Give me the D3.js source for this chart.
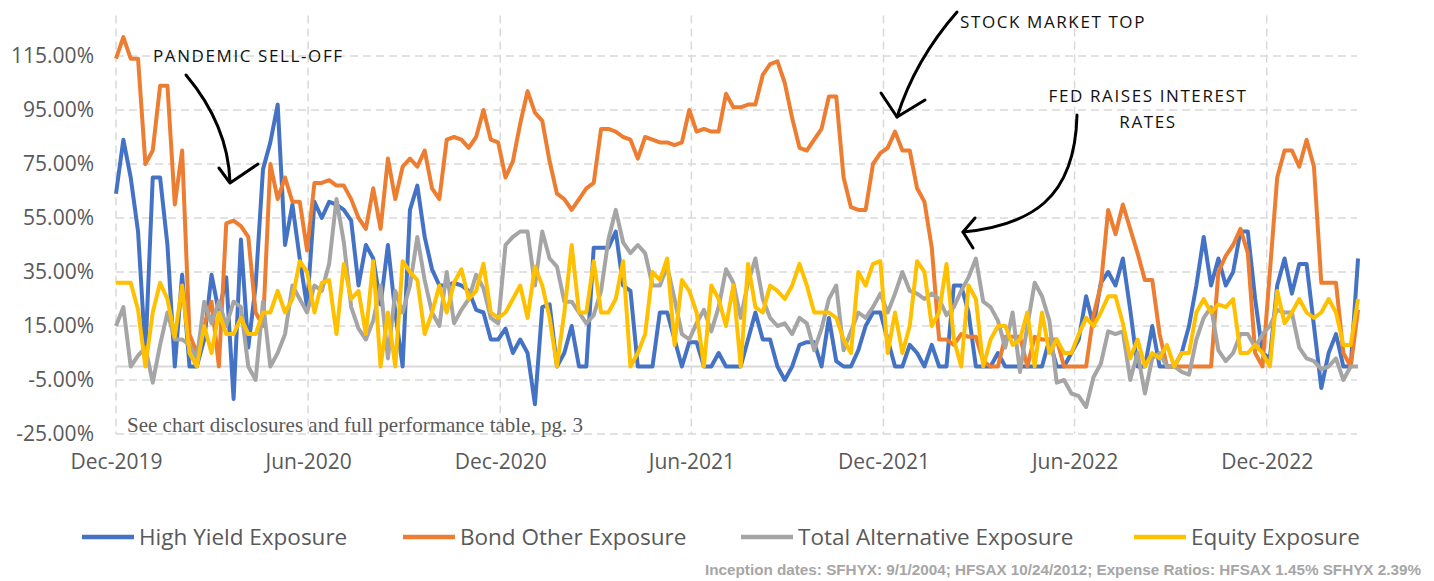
<!DOCTYPE html>
<html>
<head>
<meta charset="utf-8">
<script src="https://cdn.jsdelivr.net/npm/d3@7/dist/d3.min.js"></script>
<style>
  body { margin: 0; background: #fff; }
  svg text { font-family: "Open Sans", "Noto Sans", sans-serif; }
</style>
</head>
<body>
<div id="chart"></div>
<script>
// weekly observations, first one on this date
const startDate = '2019-12-01'

const highYield = [
  64, 84, 70, 50, 5, 70, 70, 45, 0, 34,
  0, 0, 10, 34, 20, 33, -12, 47, 7, 30,
  73, 83, 97, 45, 60, 40, 22, 61, 55, 61,
  60, 58, 54, 30, 45, 40, 23, 45, 20, 0,
  58, 67, 48, 36, 30, 30, 31, 30, 28, 21,
  20, 10, 10, 14, 5, 10, 5, -14, 22, 23,
  0, 5, 15, 0, 0, 44, 44, 44, 50, 30,
  28, 0, 0, 0, 20, 20, 10, 0, 9, 9,
  0, 0, 5, 0, 0, 0, 10, 20, 10, 10,
  0, -5, 0, 8, 9, 9, 0, 18, 2, 0,
  0, 6, 15, 20, 20, 10, 0, 0, 8, 5,
  0, 8, 0, 0, 30, 30, 20, 0, 0, 0,
  5, 0, 0, 0, 0, 0, 0, 10, 0, 0,
  5, 10, 26, 15, 31, 35, 30, 40, 21, 0,
  0, 15, 0, 0, 0, 5, 15, 30, 48, 30,
  40, 30, 35, 50, 50, 25, 5, 3, 30, 40,
  27, 38, 38, 15, -8, 5, 12, 0, 0, 40
]

const bondOther = [
  114, 122, 114, 114, 75, 80, 104, 104, 60, 80,
  12, 5, 15, 24, 0, 53, 54, 52, 48, 20,
  15, 75, 62, 70, 61, 61, 43, 68, 68, 69,
  67, 67, 62, 55, 51, 66, 51, 77, 62, 74,
  77, 74, 80, 66, 62, 84, 85, 84, 81, 85,
  95, 84, 83, 70, 76, 90, 102, 94, 91, 76,
  64, 62, 58, 62, 66, 68, 88, 88, 87, 85,
  84, 77, 85, 84, 83, 83, 82, 83, 95, 87,
  88, 87, 87, 101, 96, 96, 97, 97, 108, 112,
  113, 105, 92, 81, 80, 84, 88, 100, 100, 70,
  59, 58, 58, 75, 79, 81, 87, 80, 80, 66,
  61, 44, 10, 10, 8, 12, 11, 11, 2, 0,
  0, 11, 11, 11, 0, 11, 10, 10, 10, 0,
  0, 0, 0, 19, 30, 58, 49, 60, 51, 42,
  32, 32, 12, 0, 0, 0, 0, 0, 0, 0,
  35, 41, 45, 51, 42, 5, 0, 35, 70, 80,
  80, 74, 84, 74, 31, 31, 31, 5, 0, 21
]

const totalAlt = [
  15, 22, 0, 4, 7, -6, 8, 20, 10, 10,
  8, 3, 24, 16, 24, 15, 24, 22, 0, -5,
  24, 0, 5, 12, 30, 25, 20, 30, 28, 38,
  62, 46, 22, 14, 10, 17, 30, 3, 28, 20,
  30, 48, 32, 20, 15, 35, 16, 21, 25, 34,
  29, 18, 16, 45, 48, 50, 50, 30, 50, 40,
  37, 24, 24, 20, 16, 19, 28, 47, 58, 46,
  42, 45, 42, 30, 30, 37, 25, 12, 10, 16,
  21, 13, 22, 36, 31, 18, 31, 40, 25, 18,
  15, 16, 12, 18, 16, 6, 14, 25, 30, 6,
  13, 20, 18, 22, 27, 20, 27, 35, 28, 27,
  25, 27, 25, 19, 22, 28, 33, 40, 24, 22,
  17, 7, 20, -2, 15, 31, 26, 17, -6, -5,
  -10, -11, -15, -4, 1, 13, 12, 13, -5, 5,
  -10, 3, 5, 0, 0, -2, -3, 10, 18, 22,
  6, 2, 5, 12, 12, 7, 12, 15, 21, 20,
  20, 7, 3, 2, -1, 0, 3, -5, 0, 0
]

const equity = [
  31, 31, 31, 21, 0, 20, 31, 25, 11, 30,
  5, 0, 15, 5, 20, 12, 12, 18, 12, 12,
  20, 20, 28, 20, 25, 39, 35, 20, 31, 32,
  12, 38, 25, 28, 12, 39, 0, 20, 0, 39,
  35, 32, 12, 20, 30, 20, 31, 36, 25, 28,
  38, 20, 18, 20, 25, 30, 18, 37, 30, 18,
  0, 20, 45, 20, 20, 39, 20, 20, 25, 39,
  0, 5, 12, 35, 32, 40, 8, 32, 28, 20,
  0, 30, 25, 15, 30, 0, 38, 22, 20, 30,
  28, 25, 30, 38, 30, 20, 20, 20, 18, 10,
  5, 35, 30, 38, 39, 5, 20, 5, 15, 39,
  35, 15, 20, 38, 10, 0, 30, 25, 0, 10,
  15, 15, 8, 10, 20, 0, 20, 5, 10, 5,
  5, 12, 18, 15, 20, 26, 26, 16, 3, 10,
  0, 5, 3, 8, 0, 5, 5, 20, 25, 20,
  23, 22, 25, 5, 5, 8, 5, 0, 28, 16,
  20, 25, 20, 18, 20, 25, 20, 8, 8, 25
]

const seriesNames = ['High Yield Exposure', 'Bond Other Exposure', 'Total Alternative Exposure', 'Equity Exposure']
const seriesColors = ['#4472C4', '#ED7D31', '#A5A5A5', '#FFC000']
const yTicks = [-25, -5, 15, 35, 55, 75, 95, 115]
const xTicks = ['2019-12-01', '2020-06-01', '2020-12-01', '2021-06-01', '2021-12-01', '2022-06-01', '2022-12-01']
const axisStart = '2019-12-01'
const axisEnd = '2023-02-25'

const notes = [
  { text: 'PANDEMIC SELL-OFF', x: 153, y: 62 },
  { text: 'STOCK MARKET TOP', x: 960, y: 28 },
  { text: 'FED RAISES INTEREST', x: 1148, y: 102, anchor: 'middle' },
  { text: 'RATES', x: 1148, y: 128, anchor: 'middle' }
]

////////////////////////////////////
//////////////setup/////////////////
////////////////////////////////////

const svgWidth = 1434
const svgHeight = 581
const parse = d3.timeParse('%Y-%m-%d')

const svg = d3.select('#chart')
  .append('svg')
  .attr('width', svgWidth)
  .attr('height', svgHeight)

const weeks = highYield.map((d, i) => d3.timeDay.offset(parse(startDate), 7 * i))

const xScale = d3.scaleTime()
  .domain([parse(axisStart), parse(axisEnd)])
  .range([116, 1357])

const yScale = d3.scaleLinear()
  .domain([-25, 130])
  .range([434, 15.5])

////////////////////////////////////
//////////////grid//////////////////
////////////////////////////////////

svg.append('g')
  .selectAll('line')
  .data(yTicks)
  .join('line')
  .attr('x1', xScale.range()[0])
  .attr('x2', xScale.range()[1])
  .attr('y1', d => yScale(d))
  .attr('y2', d => yScale(d))
  .attr('stroke', '#d9d9d9')
  .attr('stroke-width', 1.5)
  .attr('stroke-dasharray', '8,5')

svg.append('g')
  .selectAll('line')
  .data(xTicks)
  .join('line')
  .attr('x1', d => xScale(parse(d)))
  .attr('x2', d => xScale(parse(d)))
  .attr('y1', yScale(130))
  .attr('y2', yScale(-25))
  .attr('stroke', '#d9d9d9')
  .attr('stroke-width', 1.5)
  .attr('stroke-dasharray', '8,5')

// zero line
svg.append('line')
  .attr('x1', xScale.range()[0])
  .attr('x2', xScale.range()[1])
  .attr('y1', yScale(0))
  .attr('y2', yScale(0))
  .attr('stroke', '#d9d9d9')
  .attr('stroke-width', 2)

////////////////////////////////////
//////////////axes//////////////////
////////////////////////////////////

const yAxis = svg.append('g')
  .attr('transform', 'translate(94,0)')
  .call(d3.axisLeft(yScale).tickValues(yTicks).tickSize(0).tickPadding(0)
    .tickFormat(d => d.toFixed(2) + '%'))
yAxis.select('.domain').remove()
yAxis.selectAll('text')
  .attr('fill', '#595959')
  .style('font-size', '21px')

const xAxis = svg.append('g')
  .attr('transform', 'translate(0,454)')
  .call(d3.axisBottom(xScale).tickValues(xTicks.map(parse)).tickSize(0).tickPadding(0)
    .tickFormat(d3.timeFormat('%b-%Y')))
xAxis.select('.domain').remove()
xAxis.selectAll('text')
  .attr('fill', '#595959')
  .style('font-size', '21px')

////////////////////////////////////
//////////////lines/////////////////
////////////////////////////////////

const line = d3.line()
  .x((d, i) => xScale(weeks[i]))
  .y(d => yScale(d))

svg.append('g')
  .selectAll('path')
  .data([highYield, bondOther, totalAlt, equity])
  .join('path')
  .attr('d', line)
  .attr('fill', 'none')
  .attr('stroke', (d, i) => seriesColors[i])
  .attr('stroke-width', 4)
  .attr('stroke-linejoin', 'round')

////////////////////////////////////
//////////////notes/////////////////
////////////////////////////////////

svg.append('text')
  .attr('x', 127)
  .attr('y', 432)
  .attr('fill', '#595959')
  .style('font-family', '"Liberation Serif", "DejaVu Serif", serif')
  .style('font-size', '21px')
  .text('See chart disclosures and full performance table, pg. 3')

svg.append('g')
  .selectAll('text')
  .data(notes)
  .join('text')
  .attr('x', d => d.x)
  .attr('y', d => d.y)
  .attr('text-anchor', d => d.anchor || 'start')
  .attr('fill', '#111')
  .style('font-size', '17px')
  .style('letter-spacing', '1.6px')
  .text(d => d.text)

// hand drawn arrows
const arrows = svg.append('g')
  .attr('fill', 'none')
  .attr('stroke', '#000')
  .attr('stroke-width', 3)
  .attr('stroke-linecap', 'round')
  .attr('stroke-linejoin', 'round')

arrows.append('path').attr('d', 'M186,75 Q228,125 230,182')
arrows.append('path').attr('d', 'M219,168 L230,183 L258,164')
arrows.append('path').attr('d', 'M957,12 Q915,60 897,117')
arrows.append('path').attr('d', 'M881,93 L897,117 L925,100')
arrows.append('path').attr('d', 'M1077,115 C1075,200 1030,225 963,232')
arrows.append('path').attr('d', 'M975,218 L963,232 L973,248')

////////////////////////////////////
//////////////legend////////////////
////////////////////////////////////

const legendX = [82, 403, 741, 1134]

const legend = svg.append('g')
  .selectAll('g')
  .data(seriesNames)
  .join('g')
  .attr('transform', (d, i) => `translate(${legendX[i]},537)`)

legend.append('line')
  .attr('x1', 0)
  .attr('x2', 52)
  .attr('stroke', (d, i) => seriesColors[i])
  .attr('stroke-width', 4.5)

legend.append('text')
  .attr('x', 57)
  .attr('dy', '0.35em')
  .attr('fill', '#595959')
  .style('font-size', '22.5px')
  .text(d => d)

svg.append('text')
  .attr('x', 1421)
  .attr('y', 575)
  .attr('text-anchor', 'end')
  .attr('fill', '#a6a6a6')
  .attr('textLength', 716)
  .attr('lengthAdjust', 'spacingAndGlyphs')
  .style('font-family', '"Liberation Sans Narrow", "Liberation Sans", sans-serif')
  .style('font-weight', 'bold')
  .style('font-size', '14px')
  .text('Inception dates: SFHYX: 9/1/2004; HFSAX 10/24/2012; Expense Ratios: HFSAX 1.45% SFHYX 2.39%')
</script>
</body>
</html>
